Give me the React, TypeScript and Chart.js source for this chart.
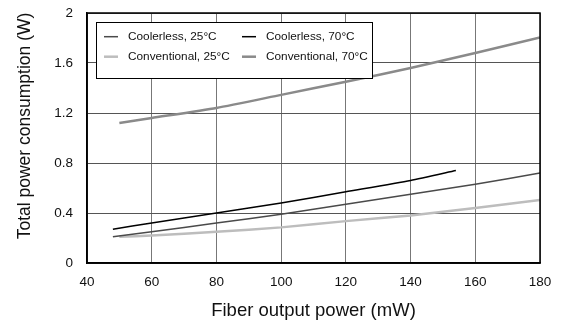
import React, { useEffect, useRef } from "react";
import { Chart, registerables } from "chart.js";

Chart.register(...registerables);

const xTicks = [40, 60, 80, 100, 120, 140, 160, 180];
const yTicks = [0, 0.4, 0.8, 1.2, 1.6, 2];
const yTitle = "Total power consumption (W)";
const xTitle = "Fiber output power (mW)";

const coolerless25X = [48, 60, 80, 100, 120, 140, 160, 180];
const coolerless25Y = [0.21, 0.25, 0.32, 0.39, 0.47, 0.55, 0.63, 0.72];

const coolerless70X = [48, 60, 80, 100, 120, 140, 154];
const coolerless70Y = [0.27, 0.32, 0.4, 0.48, 0.57, 0.66, 0.74];

const conventional25X = [50, 60, 80, 100, 120, 140, 160, 180];
const conventional25Y = [0.21, 0.22, 0.25, 0.285, 0.335, 0.38, 0.44, 0.505];

const conventional70X = [50, 60, 80, 100, 120, 140, 160, 180];
const conventional70Y = [1.12, 1.16, 1.24, 1.345, 1.45, 1.56, 1.68, 1.805];

const seriesNames = ["Coolerless, 25\u00B0C", "Coolerless, 70\u00B0C", "Conventional, 25\u00B0C", "Conventional, 70\u00B0C"];
const seriesColors = ["#4a4a4a", "#000000", "#bdbdbd", "#8a8a8a"];
const seriesWidths = [1.5, 1.5, 2.5, 2.5];

const FONT = "'Liberation Sans', Arial, sans-serif";

function pts(xs: number[], ys: number[]) {
  return xs.map((x, i) => ({ x, y: ys[i] }));
}

const frameAndLegend = {
  id: "frameAndLegend",
  afterDraw(chart: any) {
    const { ctx, chartArea } = chart;
    ctx.save();
    ctx.strokeStyle = "#000";
    ctx.lineWidth = 1.5;
    ctx.strokeRect(chartArea.left, chartArea.top, chartArea.right - chartArea.left, chartArea.bottom - chartArea.top);
    const bx = 96, by = 22, bw = 276, bh = 56;
    ctx.fillStyle = "#fff";
    ctx.fillRect(bx, by, bw, bh);
    ctx.strokeStyle = "#000";
    ctx.lineWidth = 1;
    ctx.strokeRect(bx + 0.5, by + 0.5, bw, bh);
    ctx.font = `11.8px ${FONT}`;
    ctx.textBaseline = "middle";
    ctx.textAlign = "left";
    const cols = [104, 242];
    const rows = [36.7, 56.7];
    for (let i = 0; i < 4; i++) {
      const cx = cols[i % 2];
      const cy = rows[Math.floor(i / 2)];
      ctx.strokeStyle = seriesColors[i];
      ctx.lineWidth = seriesWidths[i];
      ctx.beginPath();
      ctx.moveTo(cx, cy);
      ctx.lineTo(cx + 14, cy);
      ctx.stroke();
      ctx.fillStyle = "#111";
      ctx.fillText(seriesNames[i], cx + 24, cy + 0.5);
    }
    // y-axis title
    ctx.translate(25, 126);
    ctx.rotate(-Math.PI / 2);
    ctx.font = `17.5px ${FONT}`;
    ctx.textAlign = "center";
    ctx.textBaseline = "middle";
    ctx.fillStyle = "#111";
    ctx.fillText(yTitle, 0, 0);
    ctx.restore();
  },
};

export default function App() {
  const ref = useRef<HTMLCanvasElement | null>(null);
  useEffect(() => {
    document.body.style.margin = "0";
    const canvas = ref.current!;
    const datasets = [
      pts(coolerless25X, coolerless25Y),
      pts(coolerless70X, coolerless70Y),
      pts(conventional25X, conventional25Y),
      pts(conventional70X, conventional70Y),
    ].map((data, i) => ({
      label: seriesNames[i],
      data,
      borderColor: seriesColors[i],
      backgroundColor: seriesColors[i],
      borderWidth: seriesWidths[i],
      pointRadius: 0,
      tension: 0.2,
      fill: false,
    }));
    const chart = new Chart(canvas, {
      type: "line",
      data: { datasets },
      options: {
        animation: false,
        responsive: false,
        maintainAspectRatio: false,
        layout: { padding: { left: 0, top: 13, right: 22, bottom: 0 } },
        plugins: { legend: { display: false }, tooltip: { enabled: false } },
        scales: {
          x: {
            type: "linear",
            min: 40,
            max: 180,
            afterBuildTicks: (s: any) => {
              s.ticks = xTicks.map((v) => ({ value: v }));
            },
            afterFit: (s: any) => {
              s.height = 62;
              s.paddingLeft = 0;
              s.paddingRight = 0;
            },
            grid: { color: "#777", lineWidth: 1, drawTicks: false },
            border: { color: "#000", width: 1.5 },
            ticks: { color: "#111", padding: 11, font: { family: FONT, size: 13.5 }, maxRotation: 0 },
            title: { display: true, text: xTitle, color: "#111", font: { family: FONT, size: 18.5 }, padding: { top: 4, bottom: 3 } },
          },
          y: {
            type: "linear",
            min: 0,
            max: 2,
            afterBuildTicks: (s: any) => {
              s.ticks = yTicks.map((v) => ({ value: v }));
            },
            afterFit: (s: any) => {
              s.width = 87;
              s.paddingTop = 0;
              s.paddingBottom = 0;
            },
            grid: { color: "#555", lineWidth: 1, drawTicks: false },
            border: { color: "#000", width: 1.5 },
            ticks: {
              color: "#111",
              padding: 14,
              font: { family: FONT, size: 13.5 },
              callback: (v: any) => String(Number(v)),
            },
            title: { display: false },
          },
        },
      },
      plugins: [frameAndLegend],
    });
    return () => chart.destroy();
  }, []);
  return (
    <div style={{ width: 562, height: 325, background: "#fff" }}>
      <canvas ref={ref} width={562} height={325} style={{ width: 562, height: 325, display: "block" }} />
    </div>
  );
}
